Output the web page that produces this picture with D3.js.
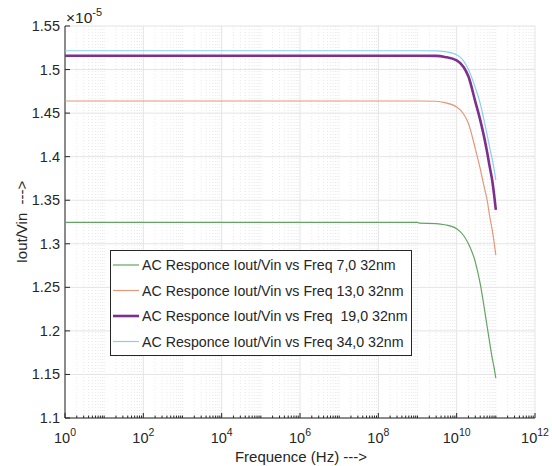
<!DOCTYPE html>
<html>
<head>
<meta charset="utf-8">
<title>AC Responce</title>
<script src="https://d3js.org/d3.v7.min.js"></script>
<style>
  body { margin: 0; background: #fff; }
  text { font-family: "Liberation Sans", Arial, sans-serif; fill: #262626; }
</style>
</head>
<body>
<div id="chart"></div>
<script>
// frequency points (Hz), shared by all four curves
const freq = [1, 1e9, 1.1e9, 3e9, 5e9, 1e10, 1.5e10, 2e10, 3e10, 4e10, 5e10, 6e10, 7e10, 8e10, 9e10, 1e11];

// Iout/Vin, in units of 1e-5
const resp7  = [1.3245, 1.3245, 1.3236, 1.3232, 1.3218, 1.3172, 1.3095, 1.300, 1.279, 1.254, 1.228, 1.205, 1.186, 1.170, 1.158, 1.1456];
const resp13 = [1.4639, 1.4639, 1.4639, 1.4636, 1.4620, 1.4570, 1.4490, 1.438, 1.409, 1.386, 1.366, 1.350, 1.331, 1.317, 1.302, 1.287];
const resp19 = [1.5159, 1.5159, 1.5159, 1.5157, 1.5145, 1.5105, 1.5030, 1.492, 1.463, 1.442, 1.423, 1.405, 1.388, 1.374, 1.357, 1.339];
const resp34 = [1.5216, 1.5216, 1.5216, 1.5214, 1.5205, 1.5170, 1.5100, 1.500, 1.479, 1.461, 1.442, 1.425, 1.410, 1.398, 1.386, 1.373];

const names = [
  "AC Responce Iout/Vin vs Freq 7,0 32nm",
  "AC Responce Iout/Vin vs Freq 13,0 32nm",
  "AC Responce Iout/Vin vs Freq  19,0 32nm",
  "AC Responce Iout/Vin vs Freq 34,0 32nm"
];
const colors = ["#62a562", "#e3987b", "#7e2f8e", "#8ccfec"];
const widths = [1.2, 1.2, 2.6, 1.2];

const yTicks = [1.1, 1.15, 1.2, 1.25, 1.3, 1.35, 1.4, 1.45, 1.5, 1.55];
const xTickExp = [0, 2, 4, 6, 8, 10, 12];

const W = 552, H = 466;
const mLeft = 65, mRight = 535, mTop = 26, mBottom = 418;

const svg = d3.select('#chart').append('svg')
  .attr('width', W).attr('height', H);

const x = d3.scaleLog().domain([1, 1e12]).range([mLeft, mRight]);
const y = d3.scaleLinear().domain([1.1, 1.55]).range([mBottom, mTop]);

// minor grid (x only), dotted
const minor = [];
for (let e = 0; e < 12; e++) {
  for (let m = 1; m <= 9; m++) {
    if (m === 1 && e % 2 === 0) continue;
    minor.push(m * Math.pow(10, e));
  }
}
svg.append('g').selectAll('line').data(minor).join('line')
  .attr('x1', d => x(d)).attr('x2', d => x(d))
  .attr('y1', mTop).attr('y2', mBottom)
  .attr('stroke', '#e3e3e3').attr('stroke-width', 0.8)
  .attr('stroke-dasharray', '1,2');

// major grid
svg.append('g').selectAll('line').data(xTickExp).join('line')
  .attr('x1', d => x(Math.pow(10, d))).attr('x2', d => x(Math.pow(10, d)))
  .attr('y1', mTop).attr('y2', mBottom)
  .attr('stroke', '#e4e4e4').attr('stroke-width', 1);
svg.append('g').selectAll('line').data(yTicks).join('line')
  .attr('x1', mLeft).attr('x2', mRight)
  .attr('y1', d => y(d)).attr('y2', d => y(d))
  .attr('stroke', '#e4e4e4').attr('stroke-width', 1);

// axes lines and ticks
const axis = svg.append('g').attr('stroke', '#262626');
axis.append('line').attr('x1', mLeft).attr('x2', mRight).attr('y1', mBottom).attr('y2', mBottom);
axis.append('line').attr('x1', mLeft).attr('x2', mLeft).attr('y1', mTop).attr('y2', mBottom);
axis.selectAll('.mt').data(minor).join('line')
  .attr('x1', d => x(d)).attr('x2', d => x(d))
  .attr('y1', mBottom).attr('y2', mBottom - 2.5);
axis.selectAll('.xt').data(xTickExp).join('line')
  .attr('x1', d => x(Math.pow(10, d))).attr('x2', d => x(Math.pow(10, d)))
  .attr('y1', mBottom).attr('y2', mBottom - 5);
axis.selectAll('.yt').data(yTicks).join('line')
  .attr('x1', mLeft).attr('x2', mLeft + 5)
  .attr('y1', d => y(d)).attr('y2', d => y(d));

// tick labels
svg.append('g').selectAll('text').data(yTicks).join('text')
  .attr('x', mLeft - 5).attr('y', d => y(d) + 5)
  .attr('text-anchor', 'end').attr('font-size', 14.5)
  .text(d => d3.format('~g')(d));

const xl = svg.append('g').selectAll('text').data(xTickExp).join('text')
  .attr('x', d => x(Math.pow(10, d))).attr('y', 443)
  .attr('text-anchor', 'middle').attr('font-size', 14.5);
xl.append('tspan').text('10');
xl.append('tspan').attr('dy', -7).attr('font-size', 10.5).text(d => d);

// exponent label
const ex = svg.append('text').attr('x', 66).attr('y', 23).attr('font-size', 15.5);
ex.append('tspan').text('\u00d710');
ex.append('tspan').attr('dy', -7).attr('font-size', 11).text('-5');

// axis titles
svg.append('text').attr('x', 301).attr('y', 462)
  .attr('text-anchor', 'middle').attr('font-size', 15)
  .text('Frequence (Hz) --->');
svg.append('text')
  .attr('transform', `translate(27,${(mTop + mBottom) / 2}) rotate(-90)`)
  .attr('text-anchor', 'middle').attr('font-size', 15)
  .style('white-space', 'pre')
  .text('Iout/Vin  --->');

// curves
const series = [resp7, resp13, resp19, resp34];
const line = d3.line()
  .x((d, i) => x(freq[i]))
  .y(d => y(d))
  .curve(d3.curveMonotoneX);
svg.append('g').selectAll('path').data(series).join('path')
  .attr('d', line)
  .attr('fill', 'none')
  .attr('stroke', (d, i) => colors[i])
  .attr('stroke-width', (d, i) => widths[i]);

// legend
const lg = svg.append('g');
lg.append('rect').attr('x', 110.5).attr('y', 250.5).attr('width', 301).attr('height', 105)
  .attr('fill', '#fff').attr('stroke', '#262626').attr('stroke-width', 1);
const rows = lg.selectAll('g').data(names).join('g')
  .attr('transform', (d, i) => `translate(0,${265 + i * 25.5})`);
rows.append('line').attr('x1', 113).attr('x2', 139).attr('y1', 0).attr('y2', 0)
  .attr('stroke', (d, i) => colors[i]).attr('stroke-width', (d, i) => widths[i]);
rows.append('text').attr('x', 142).attr('y', 5).attr('font-size', 14.2)
  .style('white-space', 'pre')
  .text(d => d);
</script>
</body>
</html>
